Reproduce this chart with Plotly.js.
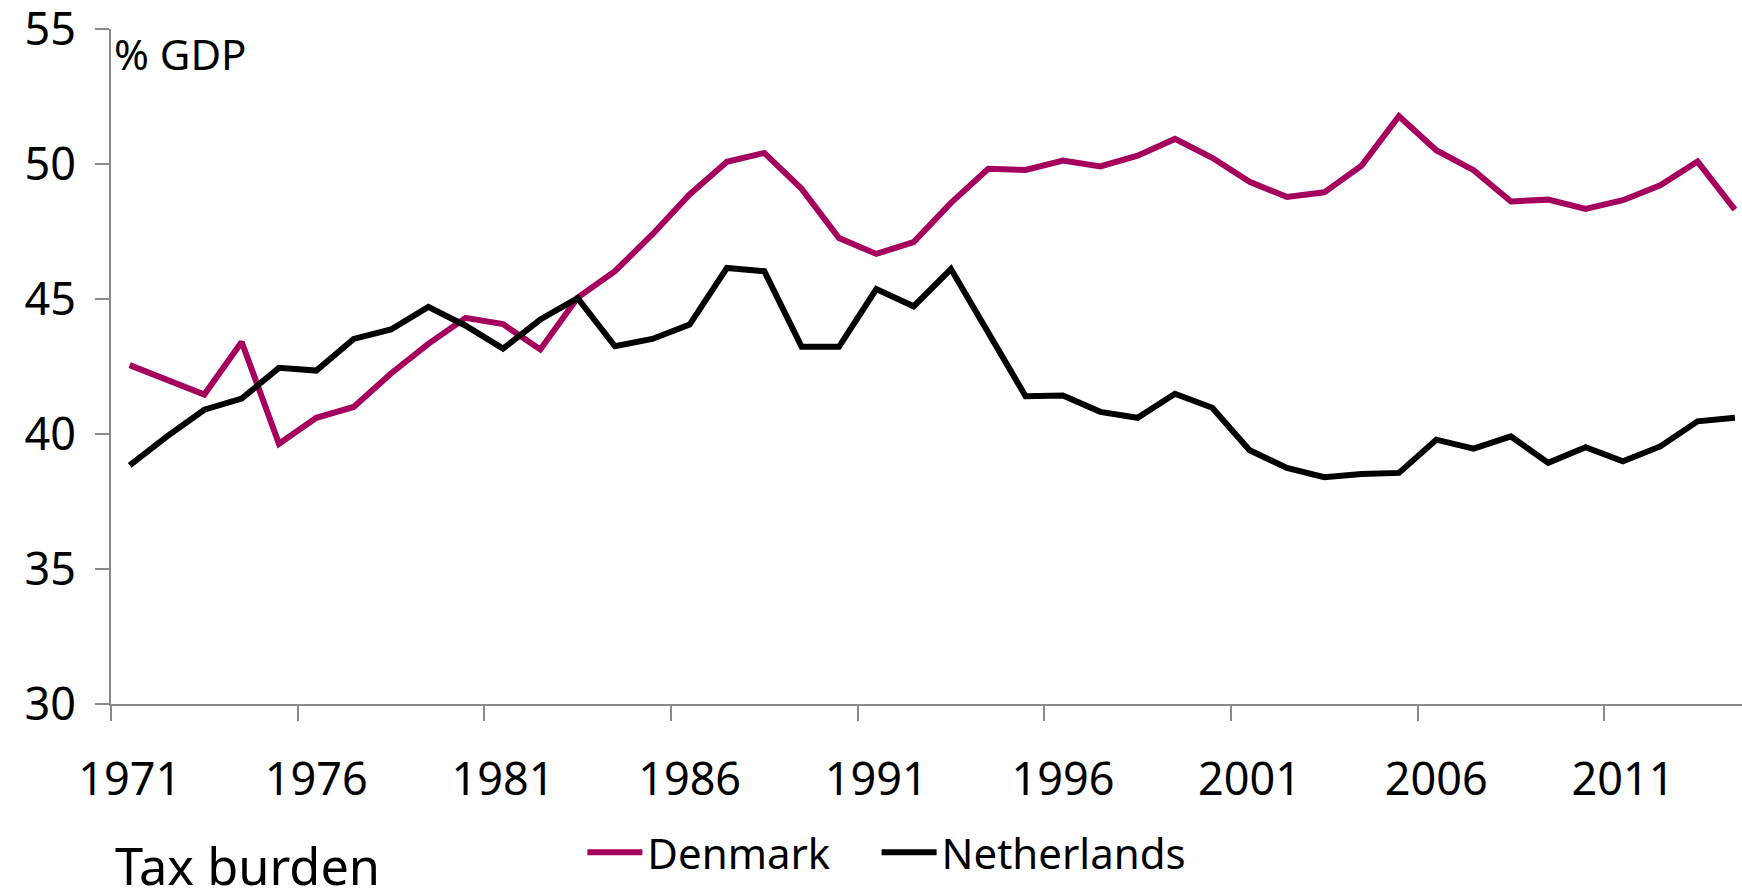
<!DOCTYPE html>
<html>
<head>
<meta charset="utf-8">
<script src="https://cdn.plot.ly/plotly-3.0.1.min.js"></script>
<style>
html,body{margin:0;padding:0;background:#fff;overflow:hidden}
svg text{font-stretch:87.5% !important;}
</style>
</head>
<body>
<div id="chart" style="width:1742px;height:893px"></div>
<script>
const years = [1971,1972,1973,1974,1975,1976,1977,1978,1979,1980,1981,1982,1983,1984,1985,1986,1987,1988,1989,1990,1991,1992,1993,1994,1995,1996,1997,1998,1999,2000,2001,2002,2003,2004,2005,2006,2007,2008,2009,2010,2011,2012,2013,2014];
const denmark = [42.55,42.01,41.46,43.41,39.64,40.6,41.0,42.24,43.34,44.3,44.07,43.13,45.05,46.03,47.39,48.87,50.08,50.41,49.08,47.26,46.67,47.11,48.56,49.82,49.78,50.13,49.91,50.31,50.93,50.23,49.34,48.78,48.95,49.94,51.77,50.51,49.77,48.61,48.68,48.34,48.66,49.21,50.09,48.31];
const netherlands = [38.84,39.91,40.9,41.31,42.45,42.35,43.52,43.87,44.71,44.01,43.16,44.24,45.03,43.25,43.52,44.05,46.15,46.03,43.23,43.23,45.37,44.73,46.11,43.72,41.4,41.43,40.82,40.6,41.49,40.97,39.4,38.74,38.4,38.52,38.56,39.79,39.46,39.91,38.93,39.51,38.99,39.54,40.47,40.6];
const xLabels = [1971,1976,1981,1986,1991,1996,2001,2006,2011];
const xBoundaries = [1970.5,1975.5,1980.5,1985.5,1990.5,1995.5,2000.5,2005.5,2010.5];
const yTicks = [30,35,40,45,50,55];
const seriesNames = ['Denmark','Netherlands'];
const unitLabel = '% GDP';
const chartTitle = 'Tax burden';

const FONT = '"Noto Sans", "Liberation Sans", sans-serif';
const GRAY = '#8a8a8a';

const traces = [
  {x: years, y: denmark, name: seriesNames[0], type: 'scatter', mode: 'lines',
   line: {color: '#A6005E', width: 6}, cliponaxis: false, legend: 'legend'},
  {x: years, y: netherlands, name: seriesNames[1], type: 'scatter', mode: 'lines',
   line: {color: '#000000', width: 6}, cliponaxis: false, legend: 'legend2'}
];

const legendBase = {orientation: 'h', xanchor: 'left', y: -0.22, yanchor: 'middle',
  font: {family: FONT, size: 42, color: '#000'}, itemwidth: 55, bgcolor: 'rgba(0,0,0,0)'};

const layout = {
  width: 1742, height: 893,
  margin: {l: 111, r: 0, t: 29, b: 189, pad: 0},
  paper_bgcolor: '#fff', plot_bgcolor: '#fff',
  font: {family: FONT, size: 45, color: '#000'},
  showlegend: true,
  legend: Object.assign({}, legendBase, {x: 0.289}),
  legend2: Object.assign({}, legendBase, {x: 0.4694}),
  xaxis: {
    type: 'linear', range: [1970.5, 2014.19], fixedrange: true,
    tickmode: 'array', tickvals: xLabels, ticktext: xLabels.map(String),
    ticks: '', showgrid: false, zeroline: false,
    showline: true, linecolor: GRAY, linewidth: 2,
    ticklabelstandoff: 35, ticklabeloverflow: 'allow',
    tickfont: {family: FONT, size: 45, color: '#000'},
    minor: {tickmode: 'array', tickvals: xBoundaries, ticks: 'outside', ticklen: 15, tickwidth: 2, tickcolor: GRAY, showgrid: false}
  },
  yaxis: {
    range: [30, 55], fixedrange: true,
    tickmode: 'array', tickvals: yTicks, ticktext: yTicks.map(String),
    ticks: 'outside', ticklen: 14, tickwidth: 2, tickcolor: GRAY,
    showline: true, linecolor: GRAY, linewidth: 2,
    showgrid: false, zeroline: false,
    ticklabelstandoff: 10, ticklabeloverflow: 'allow',
    tickfont: {family: FONT, size: 45, color: '#000'}
  },
  annotations: [
    {text: unitLabel, xref: 'paper', yref: 'y', x: 0, y: 54.1, xanchor: 'left', yanchor: 'middle',
     xshift: 1, showarrow: false, font: {family: FONT, size: 42, color: '#000'}},
    {text: chartTitle, xref: 'paper', yref: 'paper', x: 0, y: -0.2394, xanchor: 'left', yanchor: 'middle',
     xshift: 2, showarrow: false, font: {family: FONT, size: 50.5, color: '#000'}}
  ]
};

Plotly.newPlot('chart', traces, layout, {displayModeBar: false, staticPlot: true});
</script>
</body>
</html>
